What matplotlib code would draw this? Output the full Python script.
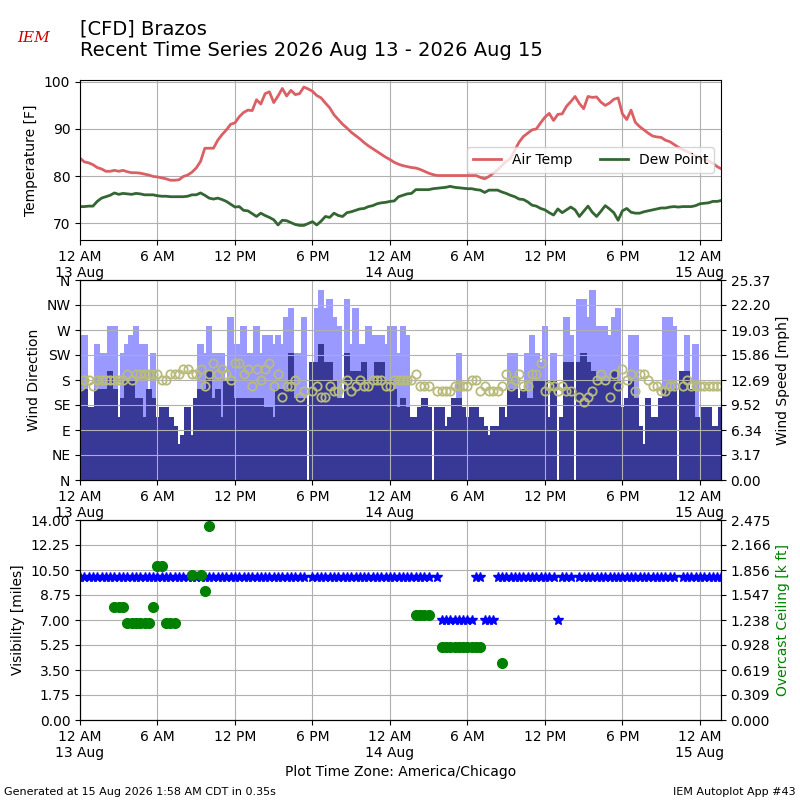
import numpy as np
import pandas as pd
import matplotlib
matplotlib.use("Agg")
import matplotlib.pyplot as plt

nan = float("nan")

# 20 minute observations for CFD, starting 13 Aug 2026 00:00 CDT
times = pd.date_range("2026-08-13 00:00", periods=150, freq="20min")

tmpf = [83.8, 83.0, 82.8, 82.4, 81.8, 81.5, 81.0, 81.0, 81.2, 81.0,
        81.2, 80.9, 80.7, 80.7, 80.6, 80.4, 80.2, 79.9, 79.8, 79.6,
        79.4, 79.1, 79.1, 79.2, 79.9, 80.2, 80.8, 81.7, 83.1, 85.9,
        85.9, 85.9, 87.6, 88.8, 89.8, 91.0, 91.3, 92.6, 93.5, 94.0,
        93.9, 96.2, 95.3, 97.5, 97.9, 95.6, 97.0, 98.6, 97.0, 98.2,
        97.3, 97.5, 98.9, 98.5, 98.0, 97.1, 96.6, 95.5, 94.5, 93.0,
        92.0, 91.0, 90.2, 89.3, 88.6, 87.9, 87.1, 86.4, 85.8, 85.2,
        84.6, 84.0, 83.5, 82.9, 82.5, 82.2, 82.0, 81.8, 81.7, 81.4,
        81.0, 80.6, 80.3, 80.1, 80.1, 80.1, 80.1, 80.1, 80.1, 80.1,
        80.1, 80.1, 80.1, 79.7, 79.4, 79.9, 80.6, 81.3, 82.2, 83.1,
        83.7, 85.5, 87.2, 88.4, 89.1, 89.8, 90.0, 91.3, 92.5, 93.3,
        91.8, 93.1, 93.2, 94.8, 95.8, 96.9, 95.4, 94.3, 96.9, 96.7,
        96.8, 95.7, 95.0, 95.5, 96.3, 96.6, 93.2, 92.0, 94.0, 91.4,
        90.5, 89.8, 89.1, 88.5, 88.3, 88.2, 87.6, 87.3, 86.7, 86.1,
        85.6, 85.2, 84.8, 84.2, 83.8, 83.5, 83.2, 82.7, 82.0, 81.5]

dwpf = [73.5, 73.5, 73.6, 73.6, 74.6, 75.3, 75.6, 75.9, 76.4, 76.1,
        76.3, 76.2, 76.1, 76.3, 76.2, 76.0, 76.0, 76.0, 75.8, 75.7,
        75.7, 75.6, 75.6, 75.6, 75.6, 75.7, 76.0, 76.0, 76.4, 75.9,
        75.3, 75.1, 75.3, 75.0, 74.6, 74.0, 73.4, 73.5, 72.7, 72.6,
        72.0, 71.4, 72.1, 71.6, 71.2, 70.7, 69.6, 70.6, 70.5, 70.1,
        69.7, 69.5, 69.5, 69.9, 70.3, 69.6, 70.4, 71.4, 71.2, 72.1,
        71.6, 71.4, 72.2, 72.4, 72.7, 73.0, 73.1, 73.5, 73.7, 74.1,
        74.3, 74.4, 74.6, 74.7, 75.6, 75.9, 76.2, 76.3, 77.1, 77.1,
        77.1, 77.1, 77.3, 77.4, 77.5, 77.6, 77.8, 77.6, 77.5, 77.4,
        77.3, 77.3, 77.1, 77.0, 76.5, 77.0, 77.0, 77.0, 76.6, 76.3,
        75.9, 75.6, 75.1, 75.0, 74.5, 73.8, 73.6, 73.1, 72.8, 72.2,
        71.7, 73.0, 72.2, 72.8, 73.4, 72.8, 71.4, 72.5, 73.6, 72.3,
        71.4, 72.5, 73.7, 73.0, 72.2, 70.6, 72.6, 73.1, 72.3, 72.1,
        72.1, 72.4, 72.6, 72.8, 73.0, 73.2, 73.2, 73.4, 73.5, 73.4,
        73.5, 73.5, 73.5, 73.7, 74.1, 74.2, 74.3, 74.6, 74.6, 74.8]

# wind speed and gust in knots
sknt = [10, 10, 8, 8, 10, 10, 10, 12, 10, 7,
        9, 11, 11, 9, 9, 7, 10, 9, 7, 8,
        8, 7, 6, 4, 5, 8, 5, 9, 10, 10,
        12, 9, 10, 7, 11, 11, 9, 9, 9, 9,
        9, 9, 9, 8, 8, 7, 10, 10, 10, 14,
        9, 9, 9, nan, 13, 13, 15, 13, 13, 11,
        9, 9, 14, 12, 12, 12, 13, 11, 11, 13,
        13, 11, 11, 10, 8, 9, 8, 7, 7, 8,
        9, 8, nan, 8, 8, 6, 7, 9, 9, 8,
        7, 8, 8, 7, 6, 5, 6, 6, 8, 7,
        10, 10, 9, 10, 9, 9, 11, 11, 11, 7,
        11, nan, 7, 13, 13, nan, 13, 14, 13, 12,
        11, 11, 11, 11, 12, 11, 8, 9, 11, 9,
        6, 4, 9, 7, 7, 9, 10, 10, 10, nan,
        12, 12, 10, 7, 7, 8, 8, 6, 6, 8]

gust = [15, 16, nan, nan, 15, 14, 14, 17, 17, nan,
        14, 15, 16, 17, 15, 15, nan, 14, nan, nan,
        nan, nan, nan, nan, nan, nan, nan, nan, 15, 14,
        17, 14, 14, 14, nan, 18, 15, 15, 17, 14,
        14, 17, 14, 16, 16, 15, 16, 15, 18, 19,
        14, 14, 18, nan, nan, 19, 21, 19, 20, 18,
        17, nan, 20, 15, 19, 15, 15, 17, 16, 16,
        16, 15, 17, 17, 14, 17, 16, nan, nan, nan,
        nan, nan, nan, nan, nan, nan, nan, nan, 14, nan,
        nan, nan, nan, nan, nan, nan, nan, nan, nan, nan,
        14, 14, nan, nan, 14, 16, 14, 13, 17, nan,
        14, nan, nan, 18, 16, nan, 20, 20, 18, 21,
        17, 17, 17, 16, 18, 19, nan, nan, 16, 16,
        nan, nan, nan, nan, nan, nan, 18, 18, 17, nan,
        nan, 16, nan, 15, nan, nan, nan, nan, nan, nan]

drct = [170, 180, 180, 170, 180, 180, 180, 180, 180, 180,
        180, 190, 180, 190, 190, 190, 190, 190, 190, 180,
        180, 190, 190, 190, 200, 200, 190, 190, 200, 170,
        190, 210, 190, 200, 190, 180, 210, 210, 190, 200,
        170, 200, 180, 200, 210, 170, 190, 150, 170, 170,
        180, 150, 160, nan, 160, 170, 150, 150, 170, 160,
        160, 170, 180, 160, 170, 180, 170, 170, 180, 180,
        180, 170, 170, 180, 180, 180, 180, 180, 190, 170,
        170, 170, nan, 160, 160, 160, 160, 170, 170, 170,
        170, 180, 180, 160, 170, 160, 160, 160, 170, 190,
        170, 180, 190, 170, 170, 190, 190, 210, 160, 170,
        170, 160, 170, 160, 160, nan, 150, 140, 150, 160,
        180, 190, 180, 150, 190, 170, 200, 180, 190, 160,
        190, 190, 180, 170, 170, 160, 160, 170, 170, nan,
        170, 180, 170, 170, 170, 170, 170, 170, 170, 170]

# visibility [miles]
vsby = [10] * 50 + [10, 10, 10, nan, 10, 10, 10, 10, 10, 10] + [10] * 20 + \
       [10, 10, nan, 10, 7, 7, 7, 7, 7, 7,
        7, 7, 10, 10, 7, 7, 7, 10, 10, 10] + [10] * 10 + \
       [10, 7, 10, 10, 10, nan, 10, 10, 10, 10] + [10] * 10 + \
       [10] * 9 + [nan] + [10] * 10

# overcast ceiling [k ft]
ceil = [nan, nan, nan, nan, nan, nan, nan, nan, 1.4, 1.4,
        1.4, 1.2, 1.2, 1.2, 1.2, 1.2, 1.2, 1.4, 1.9, 1.9,
        1.2, 1.2, 1.2, nan, nan, nan, 1.8, nan, 1.8, 1.6,
        2.4] + [nan] * 47 + \
       [1.3, 1.3, 1.3, 1.3, nan, nan, 0.9, 0.9, 0.9, 0.9,
        0.9, 0.9, 0.9, 0.9, 0.9, 0.9, nan, nan, nan, nan, 0.7] + [nan] * 51

tick_times = pd.date_range("2026-08-13 00:00", periods=9, freq="6h")
tick_labels = ["12 AM\n13 Aug", "6 AM", "12 PM", "6 PM", "12 AM\n14 Aug",
               "6 AM", "12 PM", "6 PM", "12 AM\n15 Aug"]
dir_labels = ["N", "NE", "E", "SE", "S", "SW", "W", "NW", "N"]

KT2MPH = 1.15078
smph = np.array(sknt, dtype=float) * KT2MPH
gmph = np.array(gust, dtype=float) * KT2MPH

xmin = pd.Timestamp("2026-08-13 00:00")
xmax = pd.Timestamp("2026-08-15 01:37")
barw = 30.0 / 1440.0
spd_top = 25.374

fig = plt.figure(figsize=(8, 8), dpi=100)

fig.text(0.1, 0.976, "[CFD] Brazos\nRecent Time Series 2026 Aug 13 - 2026 Aug 15",
         fontsize=14, va="top", ha="left")
fig.text(0.022, 0.948, "IEM", color="#cc0000", fontsize=11, style="italic",
         family="DejaVu Serif")
fig.text(0.005, 0.006, "Generated at 15 Aug 2026 1:58 AM CDT in 0.35s", fontsize=8)
fig.text(0.995, 0.006, "IEM Autoplot App #43", fontsize=8, ha="right")


def fix_xaxis(ax):
    ax.set_xlim(xmin, xmax)
    ax.set_xticks(tick_times)
    ax.set_xticklabels(tick_labels)
    ax.grid(True)


# temperature panel
ax1 = fig.add_axes([0.1, 0.7, 0.801, 0.2])
ax1.plot(times, tmpf, lw=2, color="#db6065", label="Air Temp")
ax1.plot(times, dwpf, lw=2, color="#346633", label="Dew Point")
ax1.set_ylim(66.4, 100.4)
ax1.set_yticks([70, 80, 90, 100])
ax1.set_ylabel("Temperature [F]")
ax1.legend(loc="center right", ncol=2)
fix_xaxis(ax1)

# wind panel
ax2 = fig.add_axes([0.1, 0.4, 0.801, 0.25])
ax2b = ax2.twinx()
ax2b.bar(times, gmph, width=barw, color="#9999ff", lw=0)
ax2b.bar(times, smph, width=barw, color="#383896", lw=0)
ax2b.set_ylim(0, spd_top)
ax2b.set_yticks(np.linspace(0, spd_top, 9))
ax2b.set_yticklabels(["%.2f" % v for v in np.linspace(0, spd_top, 9)])
ax2b.set_ylabel("Wind Speed [mph]")
ax2.set_zorder(ax2b.get_zorder() + 1)
ax2.patch.set_visible(False)
ax2.plot(times, drct, "o", mfc="none", mec="#b9bb7c", mew=1.3, ms=6)
ax2.set_ylim(0, 360)
ax2.set_yticks(range(0, 361, 45))
ax2.set_yticklabels(dir_labels)
ax2.set_ylabel("Wind Direction")
fix_xaxis(ax2)

# visibility / ceiling panel
ax3 = fig.add_axes([0.1, 0.1, 0.801, 0.25])
ax3.plot(times, vsby, "*", color="b", ms=7)
ax3.set_ylim(0, 14)
ax3.set_yticks(np.linspace(0, 14, 9))
ax3.set_yticklabels(["%.2f" % v for v in np.linspace(0, 14, 9)])
ax3.set_ylabel("Visibility [miles]")
ax3.set_xlabel("Plot Time Zone: America/Chicago")
fix_xaxis(ax3)
ax3b = ax3.twinx()
ax3b.plot(times, ceil, "o", color="g", ms=7)
ax3b.set_ylim(0, 2.475)
ax3b.set_yticks(np.linspace(0, 2.475, 9))
ax3b.set_yticklabels(["%.3f" % v for v in np.linspace(0, 2.475, 9)])
ax3b.set_ylabel("Overcast Ceiling [k ft]", color="g")
ax3b.set_xlim(xmin, xmax)

fig.savefig("out.png", dpi=100)
